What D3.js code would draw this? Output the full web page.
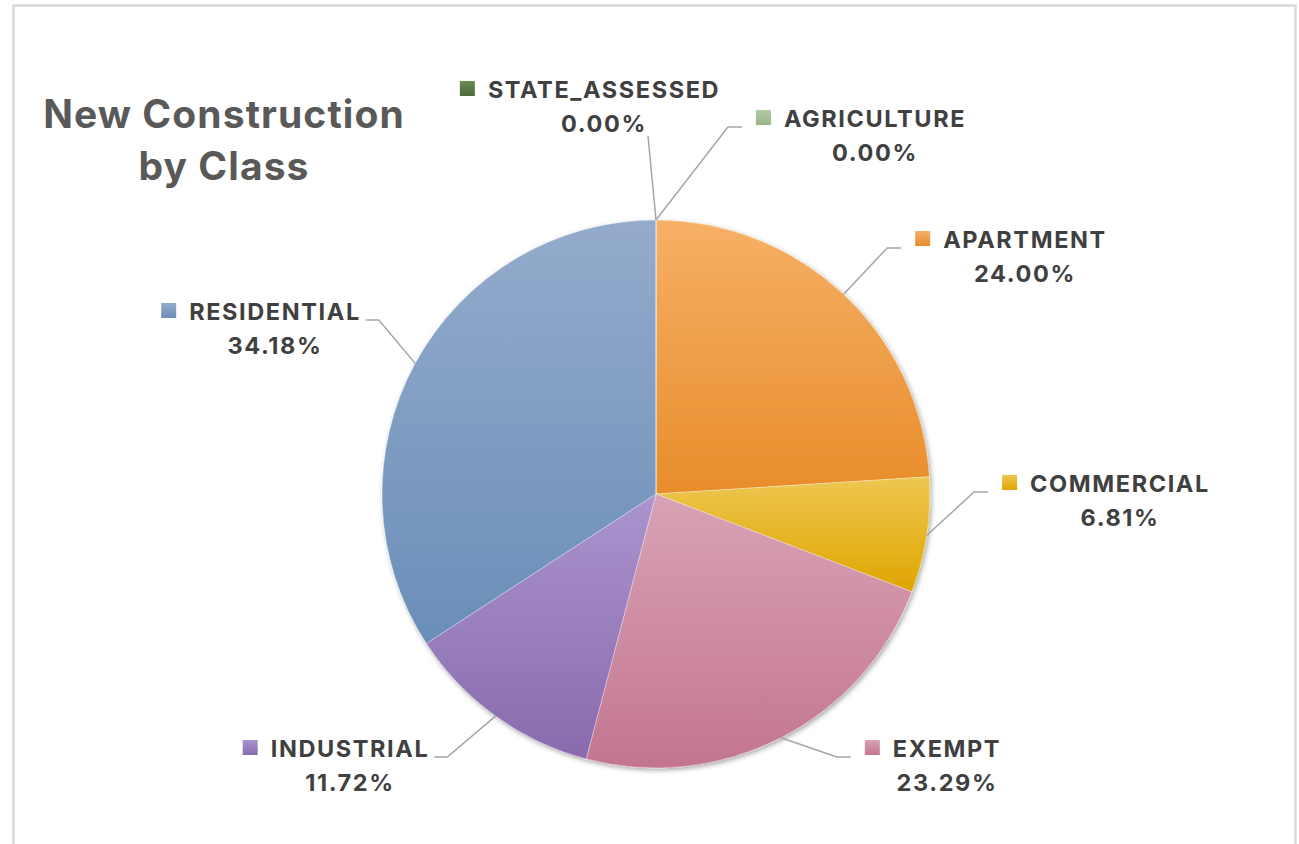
<!DOCTYPE html>
<html>
<head>
<meta charset="utf-8">
<script src="https://cdn.jsdelivr.net/npm/d3@7"></script>
<style>
  body { margin: 0; background: #fff; }
  text { font-family: Inter, "Liberation Sans", Arial, sans-serif; font-weight: 700; }
</style>
</head>
<body>
<div id="chart"></div>
<script>
// data
const classes = ['AGRICULTURE', 'APARTMENT', 'COMMERCIAL', 'EXEMPT', 'INDUSTRIAL', 'RESIDENTIAL', 'STATE_ASSESSED'];
const shares = [0.00, 24.00, 6.81, 23.29, 11.72, 34.18, 0.00];
const topColors = ['#b2cba5', '#f6b066', '#edc751', '#d9a2b6', '#aa94ce', '#94abcc', '#6b8a55'];
const bottomColors = ['#98b589', '#e88d2b', '#e0a500', '#c3758f', '#8a6aae', '#6a8eb8', '#4d6b39'];

// label placement: [center x of name, baseline of name, side]
const labelPos = {
    AGRICULTURE:    [875, 127, 'right'],
    APARTMENT:      [1025, 248, 'right'],
    COMMERCIAL:     [1120, 492, 'right'],
    EXEMPT:         [947, 757, 'right'],
    INDUSTRIAL:     [350, 757, 'left'],
    RESIDENTIAL:    [275, 320, 'left'],
    STATE_ASSESSED: [604, 98, 'up']
};

const width = 1299, height = 844,
    cx = 656, cy = 494, radius = 274;

const svg = d3.select('#chart').append('svg')
    .attr('width', width)
    .attr('height', height);

const defs = svg.append('defs');

// frame
svg.append('rect')
    .attr('x', 13.5).attr('y', 5.5)
    .attr('width', 1282).attr('height', 860)
    .attr('fill', '#fff')
    .attr('stroke', '#d9d9d9')
    .attr('stroke-width', 2.5);

// title
const title = svg.append('text')
    .attr('text-anchor', 'middle')
    .attr('fill', '#595959')
    .style('font-size', '39px')
    .style('letter-spacing', '1.1px');
title.append('tspan').attr('x', 224).attr('y', 128).text('New Construction');
title.append('tspan').attr('x', 224).attr('y', 180).text('by Class');

classes.forEach(function(c, i) {
    const g = defs.append('linearGradient')
        .attr('id', 'grad' + i)
        .attr('x1', 0).attr('y1', 0).attr('x2', 0).attr('y2', 1);
    g.append('stop').attr('offset', '0%').attr('stop-color', topColors[i]);
    g.append('stop').attr('offset', '100%').attr('stop-color', bottomColors[i]);
});

const shadow = defs.append('filter').attr('id', 'shadow')
    .attr('x', '-10%').attr('y', '-10%').attr('width', '120%').attr('height', '120%');
shadow.append('feDropShadow')
    .attr('dx', 1.5).attr('dy', 2).attr('stdDeviation', 2.5)
    .attr('flood-color', '#000').attr('flood-opacity', 0.35);

const pie = d3.pie().sort(null).value(function(d) { return d; });
const arcs = pie(shares);

const arc = d3.arc().innerRadius(0).outerRadius(radius);
const edge = d3.arc().innerRadius(radius).outerRadius(radius);

const chart = svg.append('g')
    .attr('transform', 'translate(' + cx + ',' + cy + ')');

chart.append('g')
    .attr('filter', 'url(#shadow)')
    .selectAll('path')
    .data(arcs)
    .enter().append('path')
    .attr('d', arc)
    .attr('fill', function(d, i) { return 'url(#grad' + i + ')'; })
    .attr('stroke', '#ffffff')
    .attr('stroke-opacity', 0.5)
    .attr('stroke-width', 0.7);

// data labels with legend keys and leader lines
const labels = svg.append('g');
const leaders = svg.append('g')
    .attr('fill', 'none')
    .attr('stroke', '#a6a6a6')
    .attr('stroke-width', 1.5);

arcs.forEach(function(d, i) {
    const name = classes[i];
    const p = labelPos[name];
    const lx = p[0], ly = p[1];

    const t = labels.append('text')
        .attr('x', lx).attr('y', ly)
        .attr('text-anchor', 'middle')
        .attr('fill', '#404040')
        .style('font-size', '23.5px')
        .style('letter-spacing', '1.6px')
        .text(name);
    labels.append('text')
        .attr('x', lx).attr('y', ly + 34)
        .attr('text-anchor', 'middle')
        .attr('fill', '#404040')
        .style('font-size', '23.5px')
        .style('letter-spacing', '1.6px')
        .text(shares[i].toFixed(2) + '%');

    const w = t.node().getComputedTextLength();
    const left = lx - w / 2, right = lx + w / 2;
    const sqLeft = left - 28;

    labels.append('rect')
        .attr('x', sqLeft).attr('y', ly - 17)
        .attr('width', 15).attr('height', 15)
        .attr('fill', 'url(#grad' + i + ')');

    // start point at outer edge, middle angle of the slice
    const c = edge.centroid(d);
    const sx = cx + c[0], sy = cy + c[1];
    let pts;
    if (p[2] === 'right') {
        const ex = sqLeft - 14;
        pts = [[sx, sy], [ex - 14, ly], [ex, ly]];
    } else if (p[2] === 'left') {
        const ex = right + 5;
        pts = [[sx, sy], [ex + 13, ly], [ex, ly]];
    } else {
        pts = [[sx, sy], [lx + 44, ly + 38]];
    }
    leaders.append('path').attr('d', d3.line()(pts));
});
</script>
</body>
</html>
